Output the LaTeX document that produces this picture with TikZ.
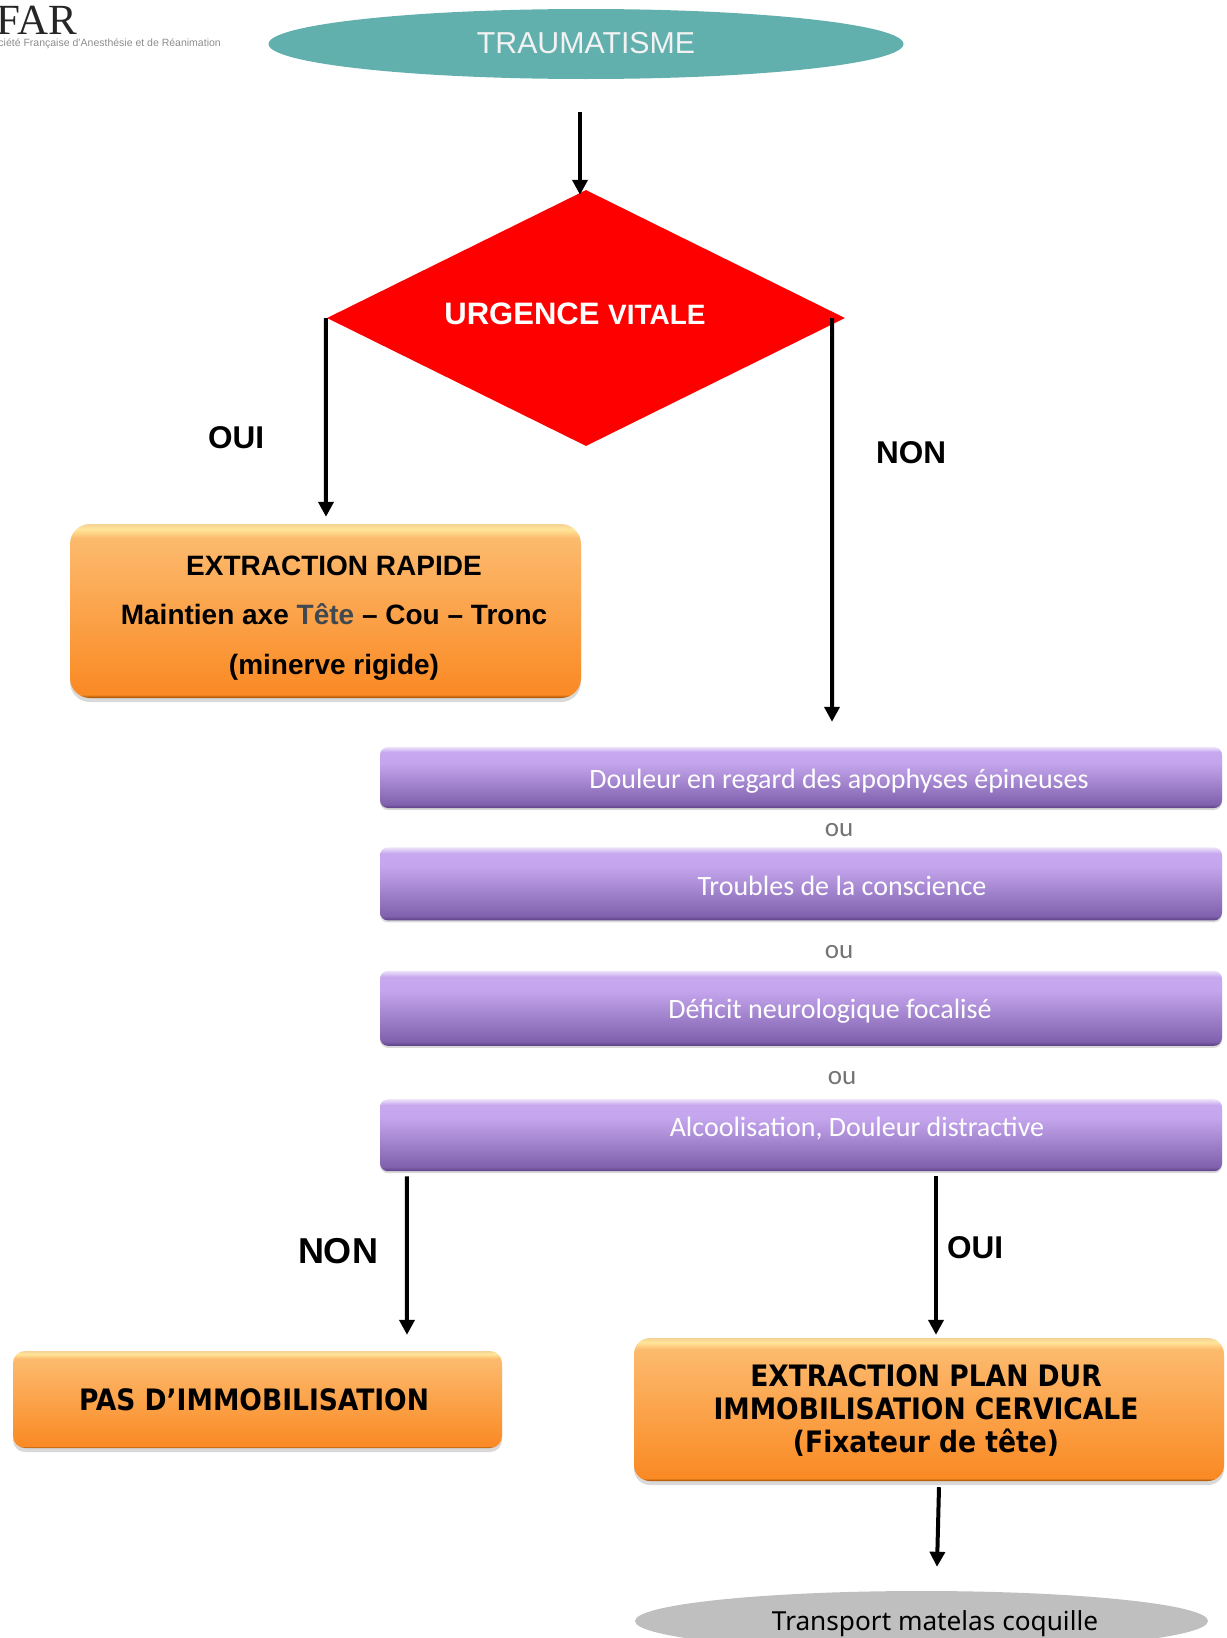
\documentclass[tikz,border=0pt]{standalone}
\usepackage{fontspec}
\setmainfont{Liberation Sans}
\newfontfamily\carlitofont{Carlito}
\newfontfamily\notofont{Noto Sans}
\newfontfamily\condfont{DejaVu Sans Condensed}
\newfontfamily\logofont{Liberation Serif}
\usetikzlibrary{arrows.meta,shapes.geometric,shadows,positioning}
\newcommand{\fsz}[2]{\fontsize{#1}{#2}\selectfont}
\definecolor{tealfill}{HTML}{62B0AE}
\definecolor{tetegray}{HTML}{404850}
\pgfdeclareverticalshading{orangeface}{100bp}{
  color(0bp)=(orange!60!black); color(25bp)=(orange!60!black);
  rgb(26bp)=(0.98,0.54,0.14); rgb(71bp)=(0.99,0.73,0.43);
  rgb(73.5bp)=(1,0.90,0.60); rgb(75bp)=(0.96,0.82,0.58); rgb(100bp)=(0.96,0.82,0.58)}
\pgfdeclareverticalshading{purpleface}{100bp}{
  rgb(0bp)=(0.36,0.25,0.52); rgb(25bp)=(0.36,0.25,0.52); rgb(28bp)=(0.50,0.38,0.68);
  rgb(62bp)=(0.77,0.65,0.93); rgb(71bp)=(0.78,0.66,0.94);
  rgb(75bp)=(0.93,0.89,0.98); rgb(100bp)=(0.93,0.89,0.98)}
\tikzset{->, % every connector is directed
>={Triangle[width=15pt,length=15pt]}, % solid arrow heads
x=1pt, y=-1pt, % one unit is one pixel of the page
node distance=39pt,
link/.style={line width=4pt, black},
blob/.style={ellipse, inner sep=0pt},
orangebox/.style={rectangle, inner sep=0pt, rounded corners=16pt, shading=orangeface,
  drop shadow={shadow xshift=0pt, shadow yshift=-4pt, opacity=.3}},
purplebox/.style={rectangle, inner sep=0pt, rounded corners=8pt, shading=purpleface,
  minimum width=842pt, drop shadow={shadow xshift=0pt, shadow yshift=-2pt, opacity=.3}},
purpletext/.style={text=white, font=\carlitofont\fsz{28}{33}},
ortext/.style={text=black!55, font=\carlitofont\fsz{27}{32}},
answer/.style={font=\bfseries\fsz{31.5}{38}},
}
\begin{document}
\begin{tikzpicture}
\clip (0,0) rectangle (1226,1638);
% logo, cut by the page edge
\node[anchor=east, inner sep=0pt, text=black!85, font=\logofont\fsz{43}{46}] (sfar) at (77,20) {SFAR};
\node[anchor=east, inner sep=0pt, text=black!45, font=\fsz{10.5}{12}] (sfarname) at (221,44) {Société Française d'Anesthésie et de Réanimation};
% top of the chart
\node[blob, fill=tealfill, minimum width=635pt, minimum height=70pt] (trauma) at (586,44) {};
\node[text=white!95!black, font=\fsz{30.3}{36}] (traumatext) at (586,43) {TRAUMATISME};
\node[diamond, aspect=2, inner sep=0pt, fill=red, minimum width=518pt, minimum height=256pt] (urgence) at (586,318) {};
\node[text=white, font=\bfseries] (urgencetext) at (575,314) {\fsz{31}{36}URGENCE \fsz{28}{36}VITALE};
\node[orangebox, rounded corners=20pt, minimum width=511pt, minimum height=174pt] (rapide) at (325.5,611) {};
\node[align=center, font=\bfseries\fsz{28}{49.5}] (rapidetext) at (334,618) {EXTRACTION RAPIDE\\Maintien axe \textcolor{tetegray}{Tête} – Cou – Tronc\\(minerve rigide)};
% the four purple criteria
\node[purplebox, minimum height=61pt] (douleur) at (801,777.5) {};
\node[purplebox, minimum height=73pt, below=of douleur] (troubles) {};
\node[purplebox, minimum height=75pt, below=50pt of troubles] (deficit) {};
\node[purplebox, minimum height=72pt, below=53pt of deficit] (alcool) {};
\node[purpletext] (douleurtext) at (839,781) {Douleur en regard des apophyses épineuses};
\node[purpletext] (troublestext) at (842,886) {Troubles de la conscience};
\node[purpletext] (deficittext) at (830,1011) {Déficit neurologique focalisé};
\node[purpletext] (alcooltext) at (857,1129) {Alcoolisation, Douleur distractive};
\node[ortext] (ou1) at (839,830) {ou};
\node[ortext] (ou2) at (839,952) {ou};
\node[ortext] (ou3) at (842,1078) {ou};
% bottom of the chart
\node[orangebox, rounded corners=12pt, minimum width=489pt, minimum height=97pt] (pasimmo) at (257.5,1399.5) {};
\node[font=\condfont\bfseries\fsz{29.5}{34}] (pasimmotext) at (254,1400) {PAS D’IMMOBILISATION};
\node[orangebox, minimum width=590pt, minimum height=143pt] (plandur) at (929,1409.5) {};
\node[align=center, font=\condfont\bfseries\fsz{29.5}{33}] (plandurtext) at (926,1410) {EXTRACTION PLAN DUR\\IMMOBILISATION CERVICALE\\(Fixateur de tête)};
\node[blob, fill=black!25, minimum width=573pt, minimum height=60pt] (coquille) at (921.5,1621) {};
\node[font=\notofont\fsz{26.2}{32}] (coquilletext) at (935,1624) {Transport matelas coquille};
% answers
\node[answer] (oui1) at (236,438) {OUI};
\node[answer] (non1) at (911,453) {NON};
\node[answer, font=\bfseries\fsz{36}{42}] (non2) at (338,1251) {NON};
\node[answer] (oui2) at (975,1248) {OUI};
% connectors
\path[link] ([shift={(-6,33)}]trauma.south) edge ([shift={(-6,5)}]urgence.north)
([shift={(-1,0)}]urgence.west) edge ([shift={(.5,-7)}]rapide.north)
([shift={(-13,0)}]urgence.east) edge ([shift={(31,-25)}]douleur.north)
([shift={(27,5)}]alcool.south west) edge ([shift={(149.5,-16)}]pasimmo.north)
([shift={(135,5)}]alcool.south) edge ([shift={(7,-3)}]plandur.north)
([shift={(10,6)}]plandur.south) edge ([shift={(15.5,-24)}]coquille.north);
\end{tikzpicture}
\end{document}
